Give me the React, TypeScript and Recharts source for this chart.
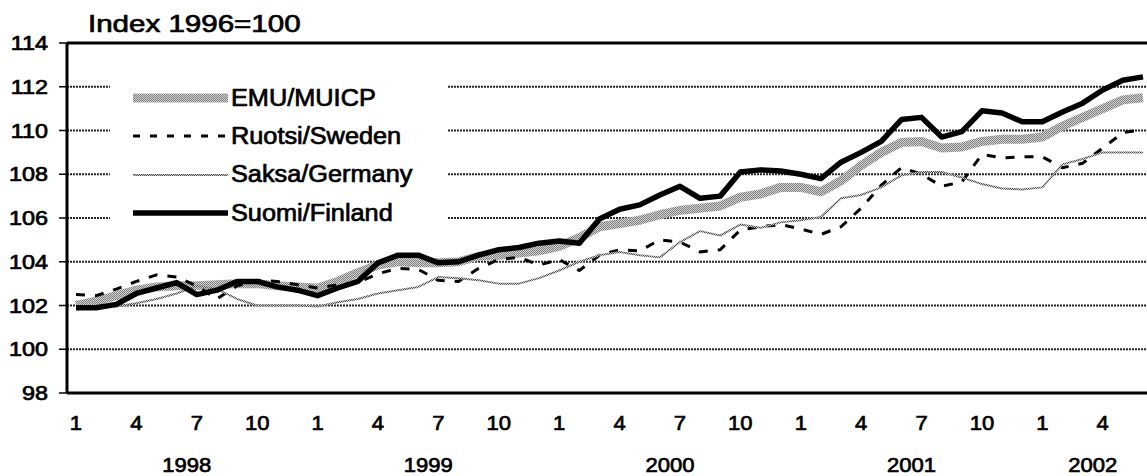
import { LineChart, Line, XAxis, YAxis, CartesianGrid, ReferenceLine, Legend } from "recharts"

const FONT = "'Liberation Sans', Arial, sans-serif"
const TEXT_STROKE = 0.7 // regular face thickened a little, the scan is heavier than plain Arial

// months Jan 1998 - Jun 2002
const periods = [
  "1998-1", "1998-2", "1998-3", "1998-4", "1998-5", "1998-6", "1998-7", "1998-8", "1998-9", "1998-10", "1998-11", "1998-12",
  "1999-1", "1999-2", "1999-3", "1999-4", "1999-5", "1999-6", "1999-7", "1999-8", "1999-9", "1999-10", "1999-11", "1999-12",
  "2000-1", "2000-2", "2000-3", "2000-4", "2000-5", "2000-6", "2000-7", "2000-8", "2000-9", "2000-10", "2000-11", "2000-12",
  "2001-1", "2001-2", "2001-3", "2001-4", "2001-5", "2001-6", "2001-7", "2001-8", "2001-9", "2001-10", "2001-11", "2001-12",
  "2002-1", "2002-2", "2002-3", "2002-4", "2002-5", "2002-6",
]

const years = ["1998", "1999", "2000", "2001", "2002"]

const emu = [
  102.0, 102.2, 102.45, 102.7, 102.85, 102.9, 102.9, 102.95, 103.0, 103.0, 102.9, 102.85,
  102.8, 103.1, 103.5, 103.85, 104.0, 103.95, 103.95, 104.0, 104.25, 104.3, 104.4, 104.5,
  104.7, 105.1, 105.6, 105.75, 105.9, 106.15, 106.35, 106.45, 106.55, 106.95, 107.1, 107.4,
  107.4, 107.2, 107.7, 108.4, 109.0, 109.45, 109.5, 109.2, 109.25, 109.5, 109.6, 109.6,
  109.7, 110.2, 110.6, 111.0, 111.4, 111.5,
]

const ruotsi = [
  102.5, 102.45, 102.75, 103.1, 103.4, 103.3, 102.9, 102.3, 102.9, 103.15, 103.1, 102.95,
  102.8, 102.95, 103.05, 103.45, 103.7, 103.65, 103.15, 103.1, 103.7, 104.1, 104.2, 103.85,
  104.1, 103.6, 104.3, 104.55, 104.5, 105.0, 104.9, 104.45, 104.55, 105.45, 105.6, 105.7,
  105.5, 105.25, 105.6, 106.45, 107.5, 108.3, 108.0, 107.45, 107.65, 108.9, 108.75, 108.8,
  108.8, 108.3, 108.5, 109.2, 109.9, 110.05,
]

const saksa = [
  101.85, 101.9, 101.95, 102.1, 102.3, 102.55, 102.9, 102.75, 102.3, 102.0, 102.0, 102.0,
  101.95, 102.15, 102.3, 102.55, 102.7, 102.85, 103.3, 103.25, 103.15, 103.0, 103.0, 103.25,
  103.6, 104.0, 104.3, 104.45, 104.3, 104.2, 104.9, 105.4, 105.2, 105.7, 105.55, 105.8,
  105.9, 106.05, 106.9, 107.05, 107.4, 107.95, 108.1, 108.1, 107.85, 107.55, 107.35, 107.3,
  107.4, 108.45, 108.7, 109.0, 109.0, 109.0,
]

const suomi = [
  101.9, 101.9, 102.05, 102.55, 102.8, 103.05, 102.5, 102.7, 103.1, 103.1, 102.85, 102.7,
  102.45, 102.8, 103.1, 103.95, 104.3, 104.3, 103.95, 104.0, 104.3, 104.55, 104.65, 104.85,
  104.95, 104.85, 105.95, 106.4, 106.6, 107.05, 107.45, 106.9, 107.0, 108.1, 108.2, 108.15,
  108.0, 107.8, 108.55, 109.0, 109.5, 110.5, 110.6, 109.7, 109.95, 110.9, 110.8, 110.4,
  110.4, 110.85, 111.25, 111.85, 112.3, 112.45,
]

const yTicks = [98, 100, 102, 104, 106, 108, 110, 112, 114]

const data = periods.map((p, i) => ({ i, period: p, emu: emu[i], ruotsi: ruotsi[i], saksa: saksa[i], suomi: suomi[i] }))

const monthOf = (i: number) => Number(periods[i].split("-")[1])

// every third month gets a label: 1, 4, 7, 10
const monthTicks = data.filter(d => (monthOf(d.i) - 1) % 3 === 0).map(d => d.i)

// year label sits in the middle of that year's months
const yearTicks = years.map(y => {
  const idx = data.filter(d => d.period.startsWith(y + "-")).map(d => d.i)
  return (idx[0] + idx[idx.length - 1]) / 2
})

const series = [
  { key: "emu", name: "EMU/MUICP", stroke: "url(#emuHatch)", width: 9, dash: undefined, legendDash: undefined },
  { key: "ruotsi", name: "Ruotsi/Sweden", stroke: "#000", width: 3, dash: "9 10", legendDash: "7 10" },
  { key: "saksa", name: "Saksa/Germany", stroke: "url(#gerHatch)", width: 2, dash: undefined, legendDash: undefined },
  { key: "suomi", name: "Suomi/Finland", stroke: "#000", width: 5.5, dash: undefined, legendDash: undefined },
]

const svgText = { fontFamily: FONT, fill: "#000", stroke: "#000", strokeWidth: TEXT_STROKE }

function YTick({ x, y, payload }: any) {
  return (
    <g transform={`translate(${x},${y})`}>
      <text transform="scale(1.17,1)" textAnchor="end" dy="0.36em" fontSize={20} {...svgText}>
        {payload.value}
      </text>
    </g>
  )
}

function MonthTick({ x, y, payload }: any) {
  return (
    <g transform={`translate(${x},${y + 37})`}>
      <text transform="scale(1.05,1)" textAnchor="middle" fontSize={21} {...svgText}>
        {monthOf(payload.value)}
      </text>
    </g>
  )
}

function YearTick({ x, y, index }: any) {
  return (
    <g transform={`translate(${x},${y + 34})`}>
      <text transform="scale(1.05,1)" textAnchor="middle" fontSize={21} {...svgText}>
        {years[index]}
      </text>
    </g>
  )
}

function LegendBox() {
  return (
    <div style={{ paddingTop: 9, fontFamily: FONT }}>
      {series.map(s => (
        <div key={s.key} style={{ height: 38.3, display: "flex", alignItems: "center" }}>
          <svg width={118} height={12} style={{ display: "block" }}>
            <line x1={23} x2={118} y1={6} y2={6} stroke={s.stroke} strokeWidth={s.width} strokeDasharray={s.legendDash} />
          </svg>
          <span
            style={{
              marginLeft: 3,
              fontSize: 23,
              lineHeight: "23px",
              color: "#000",
              WebkitTextStroke: `${TEXT_STROKE}px #000`,
              display: "inline-block",
              transform: "scaleX(1.1)",
              transformOrigin: "left center",
              whiteSpace: "nowrap",
            }}
          >
            {s.name}
          </span>
        </div>
      ))}
    </div>
  )
}

export default function App() {
  return (
    <div style={{ position: "relative", width: 1147, height: 476, background: "#fff", overflow: "hidden" }}>
      <style>{"body{margin:0;background:#fff}"}</style>

      {/* halftone fills used by the grey series */}
      <svg width={0} height={0} style={{ position: "absolute" }}>
        <defs>
          <pattern id="emuHatch" width={2} height={2} patternUnits="userSpaceOnUse">
            <rect width={2} height={2} fill="#d6d6d6" />
            <rect width={1} height={1} fill="#7c7c7c" />
            <rect x={1} y={1} width={1} height={1} fill="#7c7c7c" />
          </pattern>
          <pattern id="gerHatch" width={2} height={2} patternUnits="userSpaceOnUse">
            <rect width={2} height={2} fill="#cfcfcf" />
            <rect width={1} height={1} fill="#4a4a4a" />
            <rect x={1} y={1} width={1} height={1} fill="#4a4a4a" />
          </pattern>
        </defs>
      </svg>

      <div
        style={{
          position: "absolute",
          left: 88,
          top: 12,
          fontFamily: FONT,
          fontSize: 24,
          lineHeight: "24px",
          color: "#000",
          WebkitTextStroke: `${TEXT_STROKE}px #000`,
          transform: "scaleX(1.23)",
          transformOrigin: "left center",
          whiteSpace: "nowrap",
          zIndex: 2,
        }}
      >
        Index 1996=100
      </div>

      <LineChart width={1147} height={476} data={data} margin={{ top: 43, right: 0, left: 0, bottom: 0 }}>
        <CartesianGrid vertical={false} stroke="#000" strokeWidth={2} strokeDasharray="2 1" strokeOpacity={0.85} />

        <XAxis
          xAxisId="m"
          dataKey="i"
          type="number"
          domain={["dataMin", "dataMax"]}
          padding={{ left: 9, right: 4 }}
          ticks={monthTicks}
          interval={0}
          height={45}
          tickLine={false}
          tickSize={0}
          tickMargin={0}
          axisLine={{ stroke: "#000", strokeWidth: 3 }}
          tick={<MonthTick />}
        />
        <XAxis
          xAxisId="yr"
          dataKey="i"
          type="number"
          domain={["dataMin", "dataMax"]}
          padding={{ left: 9, right: 4 }}
          ticks={yearTicks}
          interval={0}
          height={38}
          tickLine={false}
          tickSize={0}
          tickMargin={0}
          axisLine={false}
          tick={<YearTick />}
        />
        <YAxis
          type="number"
          domain={[98, 114]}
          ticks={yTicks}
          interval={0}
          width={67}
          tickSize={8}
          tickMargin={11}
          tickLine={{ stroke: "#000", strokeWidth: 1.5 }}
          axisLine={{ stroke: "#000", strokeWidth: 3 }}
          tick={<YTick />}
        />

        <ReferenceLine xAxisId="m" y={114} stroke="#000" strokeWidth={3} />

        <Legend
          layout="vertical"
          align="center"
          verticalAlign="middle"
          content={<LegendBox />}
          wrapperStyle={{ left: 110, top: 70, width: 338, height: 158, background: "#fff" }}
        />

        {series.map(s => (
          <Line
            key={s.key}
            xAxisId="m"
            type="linear"
            dataKey={s.key}
            name={s.name}
            stroke={s.stroke}
            strokeWidth={s.width}
            strokeDasharray={s.dash}
            strokeLinejoin="round"
            dot={false}
            activeDot={false}
            isAnimationActive={false}
          />
        ))}
      </LineChart>
    </div>
  )
}
